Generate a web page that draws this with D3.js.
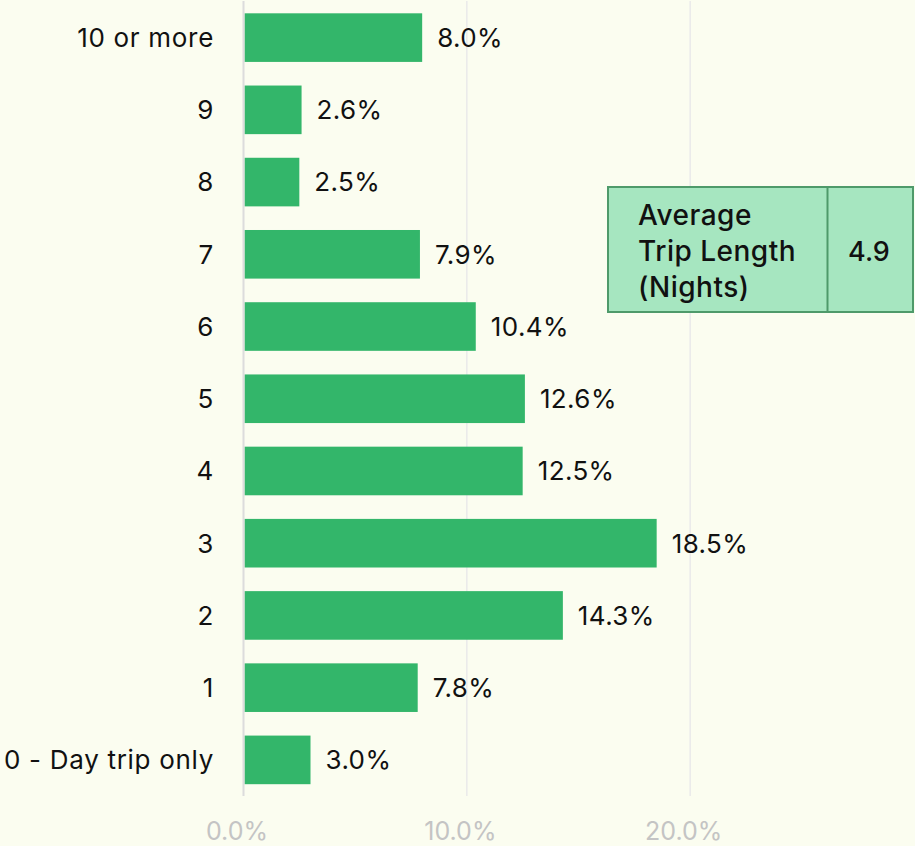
<!DOCTYPE html>
<html>
<head>
<meta charset="utf-8">
<script src="https://cdn.jsdelivr.net/npm/d3@7"></script>
<style>
  html, body { margin: 0; padding: 0; background: #fbfdf0; }
  text { font-family: "Inter", "Liberation Sans", sans-serif; }
</style>
</head>
<body>
<div id="chart"></div>
<script>
// chart data
var categories = ["10 or more", "9", "8", "7", "6", "5", "4", "3", "2", "1", "0 - Day trip only"];
var shares = [8.0, 2.6, 2.5, 7.9, 10.4, 12.6, 12.5, 18.5, 14.3, 7.8, 3.0];
var tickValues = [0, 10, 20];
var boxLabel = ["Average", "Trip Length", "(Nights)"];
var boxValue = "4.9";

var svgWidth = 915;
var svgHeight = 846;

var svg = d3.select("#chart")
    .append("svg")
    .attr("width", svgWidth)
    .attr("height", svgHeight);

svg.append("rect")
    .attr("width", svgWidth)
    .attr("height", svgHeight)
    .attr("fill", "#fbfdf0");

// scales
var xScale = d3.scaleLinear()
    .domain([0, 30])
    .range([243.5, 913.5]);

var yScale = d3.scaleBand()
    .domain(categories)
    .range([1.5, 796])
    .paddingInner(0.327)
    .paddingOuter(0.1635);

// gridlines
svg.append("g")
    .selectAll("line")
    .data(tickValues.slice(1))
    .enter()
    .append("line")
    .attr("x1", d => xScale(d))
    .attr("x2", d => xScale(d))
    .attr("y1", 1)
    .attr("y2", 796)
    .attr("stroke", "#eaeaea")
    .attr("stroke-width", 1.5);

// bars
svg.append("g")
    .selectAll("rect")
    .data(categories)
    .enter()
    .append("rect")
    .attr("x", xScale(0) + 1)
    .attr("y", d => yScale(d))
    .attr("width", (d, i) => xScale(shares[i]) - xScale(0) - 1)
    .attr("height", yScale.bandwidth())
    .attr("fill", "#33b66a");

// axis line at zero
svg.append("line")
    .attr("x1", xScale(0))
    .attr("x2", xScale(0))
    .attr("y1", 1)
    .attr("y2", 796)
    .attr("stroke", "#dcdcdc")
    .attr("stroke-width", 2);

// value labels
svg.append("g")
    .selectAll("text")
    .data(categories)
    .enter()
    .append("text")
    .attr("x", (d, i) => xScale(shares[i]) + 15)
    .attr("y", d => yScale(d) + yScale.bandwidth() / 2)
    .attr("dy", "0.36em")
    .attr("font-size", 26)
    .attr("letter-spacing", 0.4)
    .attr("fill", "#111")
    .text((d, i) => shares[i].toFixed(1) + "%");

// category labels
svg.append("g")
    .selectAll("text")
    .data(categories)
    .enter()
    .append("text")
    .attr("x", 214)
    .attr("y", d => yScale(d) + yScale.bandwidth() / 2)
    .attr("dy", "0.36em")
    .attr("text-anchor", "end")
    .attr("font-size", 26)
    .attr("letter-spacing", 0.7)
    .attr("fill", "#111")
    .text(d => d);

// x axis ticks
var xAxis = d3.axisBottom(xScale)
    .tickValues(tickValues)
    .tickSize(0)
    .tickPadding(0)
    .tickFormat(d => d.toFixed(1) + "%");

var axisGroup = svg.append("g")
    .attr("transform", "translate(-7, 822)")
    .call(xAxis);
axisGroup.select(".domain").remove();
axisGroup.selectAll("text")
    .attr("font-size", 25)
    .attr("font-family", "Inter, 'Liberation Sans', sans-serif")
    .attr("fill", "#c4c4c4");

// average trip length box
var box = svg.append("g");
box.append("rect")
    .attr("x", 608)
    .attr("y", 187)
    .attr("width", 305)
    .attr("height", 125)
    .attr("fill", "#a6e6c0")
    .attr("stroke", "#4e9a6a")
    .attr("stroke-width", 2);
box.append("line")
    .attr("x1", 827.5)
    .attr("x2", 827.5)
    .attr("y1", 187)
    .attr("y2", 312)
    .attr("stroke", "#4e9a6a")
    .attr("stroke-width", 2);
box.append("g")
    .selectAll("text")
    .data(boxLabel)
    .enter()
    .append("text")
    .attr("x", 638)
    .attr("y", (d, i) => 215 + i * 36)
    .attr("dy", "0.36em")
    .attr("font-size", 28)
    .attr("font-weight", 500)
    .attr("letter-spacing", 0.5)
    .attr("fill", "#111")
    .text(d => d);
box.append("text")
    .attr("x", 869)
    .attr("y", 251)
    .attr("dy", "0.36em")
    .attr("text-anchor", "middle")
    .attr("font-size", 27)
    .attr("font-weight", 500)
    .attr("fill", "#111")
    .text(boxValue);
</script>
</body>
</html>
